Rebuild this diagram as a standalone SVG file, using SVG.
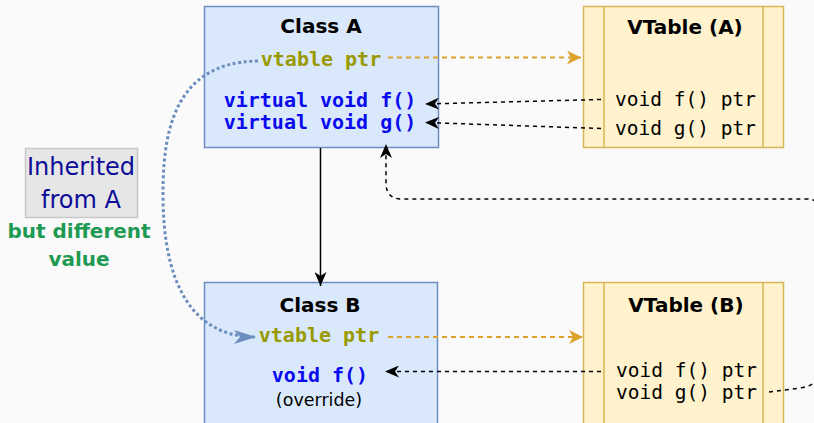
<svg xmlns="http://www.w3.org/2000/svg" width="814" height="423" viewBox="0 0 814 423">
<style>
.cls{fill:#dae8fc;stroke:#6c8ebf;stroke-width:1.5}
.vt{fill:#fff2cc;stroke:#d6b656;stroke-width:1.5}
.title{font-family:"DejaVu Sans",sans-serif;font-weight:bold;font-size:20px;fill:#000;text-anchor:middle}
.ptr{font-family:"DejaVu Sans Mono",monospace;font-weight:bold;font-size:20px;fill:#999900;text-anchor:middle}
.code{font-family:"DejaVu Sans Mono",monospace;font-weight:bold;font-size:20px;fill:#0a0aee;text-anchor:middle}
.ent{font-family:"DejaVu Sans Mono",monospace;font-size:19.5px;fill:#000}
.blk{fill:none;stroke:#000;stroke-width:1.5;stroke-dasharray:4 4}
.gold{fill:none;stroke:#dca22a;stroke-width:2;stroke-dasharray:5 4}
</style>
<defs>
<marker id="aBlk" viewBox="0 0 14 12" refX="14" refY="6" markerWidth="14" markerHeight="12" markerUnits="userSpaceOnUse" orient="auto"><path d="M0,0 L14,6 L0,12 L4,6 Z" fill="#000"/></marker>
<marker id="aGold" viewBox="0 0 14 14" refX="14" refY="7" markerWidth="14" markerHeight="14" markerUnits="userSpaceOnUse" orient="auto"><path d="M0,0 L14,7 L0,14 L4,7 Z" fill="#dca22a"/></marker>
<marker id="aBlue" viewBox="0 0 22 14" refX="22" refY="7" markerWidth="22" markerHeight="14" markerUnits="userSpaceOnUse" orient="auto"><path d="M0,0 L22,7 L0,14 L6,7 Z" fill="#6c8ebf"/></marker>
</defs>
<rect width="814" height="423" fill="#fafafa"/>

<g id="classA">
<rect class="cls" x="204.5" y="6.5" width="234" height="141"/>
<text class="title" x="321" y="33">Class A</text>
<text class="ptr" x="321" y="66">vtable ptr</text>
<text class="code" x="320" y="106.5">virtual void f()</text>
<text class="code" x="320" y="129">virtual void g()</text>
</g>

<g id="vtableA">
<rect class="vt" x="583.5" y="6.5" width="200" height="141"/>
<line x1="604" y1="6.5" x2="604" y2="147.5" stroke="#d6b656" stroke-width="1.5"/>
<line x1="763" y1="6.5" x2="763" y2="147.5" stroke="#d6b656" stroke-width="1.5"/>
<text class="title" x="685" y="34">VTable (A)</text>
<text class="ent" x="615" y="106">void f() ptr</text>
<text class="ent" x="615" y="135">void g() ptr</text>
</g>

<g id="classB">
<rect class="cls" x="204.5" y="282.5" width="233" height="150"/>
<text class="title" x="320" y="311.5">Class B</text>
<text class="ptr" x="319" y="341.5">vtable ptr</text>
<text class="code" x="320" y="381.5">void f()</text>
<text x="319" y="406" font-family="DejaVu Sans, sans-serif" font-size="17.5" text-anchor="middle" fill="#000">(override)</text>
</g>

<g id="vtableB">
<rect class="vt" x="583.5" y="282.5" width="200" height="150"/>
<line x1="604" y1="282.5" x2="604" y2="432" stroke="#d6b656" stroke-width="1.5"/>
<line x1="763" y1="282.5" x2="763" y2="432" stroke="#d6b656" stroke-width="1.5"/>
<text class="title" x="686" y="311.5">VTable (B)</text>
<text class="ent" x="616" y="376.5" font-size="19">void f() ptr</text>
<text class="ent" x="616" y="398.5" font-size="19">void g() ptr</text>
</g>

<g id="note">
<rect x="25.5" y="148.5" width="112" height="69" fill="#e6e6e6" stroke="#c8c8c8" stroke-width="1.5"/>
<text x="81" y="175" font-family="DejaVu Sans, sans-serif" font-size="24" text-anchor="middle" fill="#0d0d99">Inherited</text>
<text x="81" y="207.5" font-family="DejaVu Sans, sans-serif" font-size="24" text-anchor="middle" fill="#0d0d99">from A</text>
<text x="79" y="237.5" font-family="DejaVu Sans, sans-serif" font-weight="bold" font-size="20" text-anchor="middle" fill="#1f9a53">but different</text>
<text x="79" y="266" font-family="DejaVu Sans, sans-serif" font-weight="bold" font-size="20" text-anchor="middle" fill="#1f9a53">value</text>
</g>

<g id="connectors">
<line class="gold" x1="388" y1="57.5" x2="581" y2="57.5" marker-end="url(#aGold)"/>
<line class="gold" x1="388" y1="337" x2="583" y2="337" marker-end="url(#aGold)"/>
<line class="blk" x1="601" y1="99.5" x2="425" y2="104" marker-end="url(#aBlk)"/>
<line class="blk" x1="601" y1="128.5" x2="425" y2="122.5" marker-end="url(#aBlk)"/>
<line class="blk" x1="601" y1="371.5" x2="385" y2="371.5" marker-end="url(#aBlk)"/>
<line x1="320.5" y1="148" x2="320.5" y2="286" stroke="#000" stroke-width="1.5" marker-end="url(#aBlk)"/>
<path class="blk" d="M769 392 L800 388 Q822 385 822 365 L822 215 Q822 199 806 199 L402 199 Q386 199 386 183 L386 144" marker-end="url(#aBlk)"/>
<path d="M258 61 C170 62 163 140 163 195 C163 280 190 337 256 337" fill="none" stroke="#6c8ebf" stroke-width="3" stroke-dasharray="3 2.6" marker-end="url(#aBlue)"/>
</g>
</svg>
